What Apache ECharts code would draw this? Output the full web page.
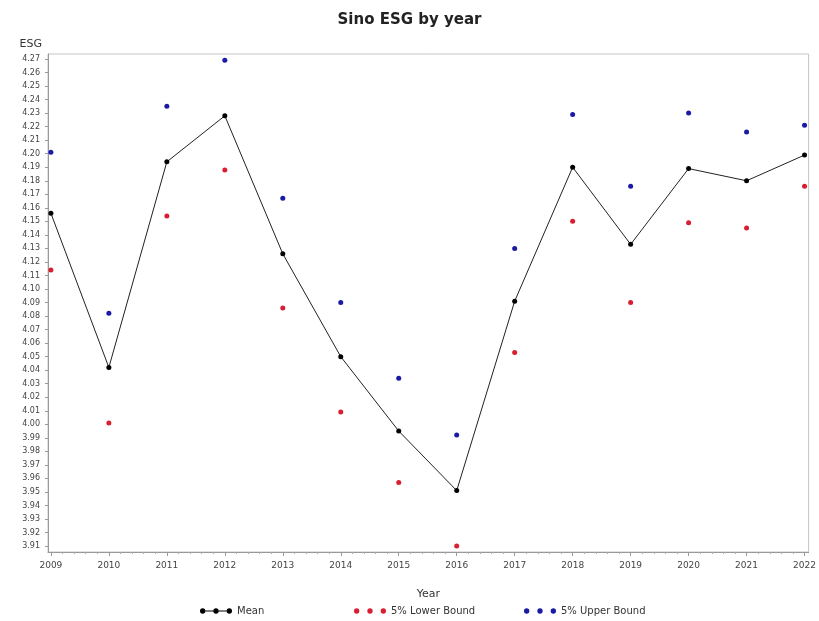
<!DOCTYPE html>
<html><head><meta charset="utf-8">
<script src="https://cdn.jsdelivr.net/npm/echarts@6/dist/echarts.min.js"></script>
<style>html,body{margin:0;padding:0;background:#fff}#c{width:819px;height:621px}</style>
</head><body><div id="c"></div>
<script>
const years = [2009,2010,2011,2012,2013,2014,2015,2016,2017,2018,2019,2020,2021,2022];
const meanVals  = [4.156,4.042,4.194,4.228,4.126,4.050,3.995,3.951,4.091,4.190,4.133,4.189,4.180,4.199];
const lowerVals = [4.114,4.001,4.154,4.188,4.086,4.009,3.957,3.910,4.053,4.150,4.090,4.149,4.145,4.176];
const upperVals = [4.201,4.082,4.235,4.269,4.167,4.090,4.034,3.992,4.130,4.229,4.176,4.230,4.216,4.221];
const yTicks = [];
for (let i = 391; i <= 427; i++) yTicks.push(i / 100);
const xMinorTicks = [];
for (let y = 2009; y < 2022; y++) for (let k = 1; k < 5; k++) xMinorTicks.push(y + k / 5);

const chart = echarts.init(document.getElementById('c'), null, {renderer: 'canvas'});
const pair = arr => years.map((y, i) => [y, arr[i]]);
const circ = cx => 'M' + cx + ',3.5 m-3,0 a3,3 0 1,0 6,0 a3,3 0 1,0 -6,0 Z';
const lineIcon = 'path://' + circ(0) + ' M3,3 L12,3 L12,4 L3,4 Z ' + circ(15) + ' M18,3 L27,3 L27,4 L18,4 Z ' + circ(30);
const dotsIcon = 'path://' + circ(0) + ' ' + circ(15) + ' ' + circ(30);
const legendBase = {top: 601, itemWidth: 32, itemHeight: 6, itemGap: 6,
  textStyle: {fontSize: 10, color: '#333', fontFamily: 'DejaVu Sans'}};
chart.setOption({
  animation: false,
  backgroundColor: '#fff',
  title: {text: 'Sino ESG by year', left: 'center', top: 8,
    textStyle: {fontSize: 15, fontWeight: 'bold', color: '#222', fontFamily: 'DejaVu Sans'}},
  grid: {left: 48, right: 5, top: 54, bottom: 69, show: true, borderColor: '#c4c4c4', borderWidth: 1},
  legend: [
    Object.assign({}, legendBase, {left: 195, data: [{name: 'Mean', icon: lineIcon}]}),
    Object.assign({}, legendBase, {left: 349, data: [{name: '5% Lower Bound', icon: dotsIcon}]}),
    Object.assign({}, legendBase, {left: 519, data: [{name: '5% Upper Bound', icon: dotsIcon}]})
  ],
  xAxis: [{
    type: 'value', min: 2008.95, max: 2022.07,
    name: 'Year', nameLocation: 'middle', nameGap: 37,
    nameTextStyle: {fontSize: 11, color: '#333', fontFamily: 'DejaVu Sans'},
    axisLine: {show: true, lineStyle: {color: '#999'}},
    axisTick: {show: true, customValues: years, length: 4, lineStyle: {color: '#999'}},
    axisLabel: {customValues: years, fontSize: 9, color: '#444', margin: 9, fontFamily: 'DejaVu Sans',
      formatter: v => String(v)},
    splitLine: {show: false}
  }, {
    type: 'value', min: 2008.95, max: 2022.07, position: 'bottom',
    axisLine: {show: false},
    axisTick: {show: true, customValues: xMinorTicks, length: 2, lineStyle: {color: '#aaa'}},
    axisLabel: {show: false},
    splitLine: {show: false}
  }],
  yAxis: {
    type: 'value', min: 3.9056, max: 4.2737,
    name: 'ESG', nameLocation: 'end', nameGap: 4,
    nameTextStyle: {fontSize: 11, color: '#333', align: 'right', padding: [0, 6, 0, 0], fontFamily: 'DejaVu Sans'},
    axisLine: {show: true, lineStyle: {color: '#999'}},
    axisTick: {show: true, customValues: yTicks, length: 3, lineStyle: {color: '#999'}},
    axisLabel: {customValues: yTicks, fontSize: 8, color: '#444', margin: 8, fontFamily: 'DejaVu Sans',
      formatter: v => v.toFixed(2)},
    splitLine: {show: false}
  },
  series: [
    {name: 'Mean', type: 'line', data: pair(meanVals), symbol: 'circle', symbolSize: 5,
      lineStyle: {color: '#222', width: 1}, itemStyle: {color: '#000', opacity: 1}},
    {name: '5% Lower Bound', type: 'scatter', data: pair(lowerVals), symbol: 'circle', symbolSize: 5,
      itemStyle: {color: '#d91e32', opacity: 1}},
    {name: '5% Upper Bound', type: 'scatter', data: pair(upperVals), symbol: 'circle', symbolSize: 5,
      itemStyle: {color: '#1a1aa6', opacity: 1}}
  ]
});
</script></body></html>
